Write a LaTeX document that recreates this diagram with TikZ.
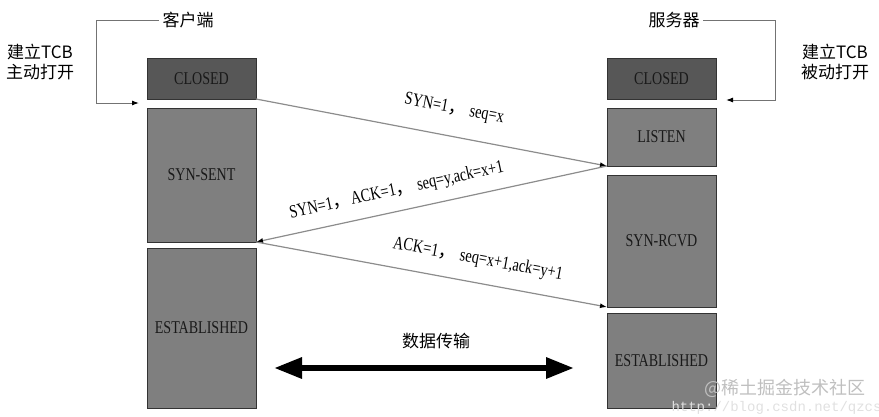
\documentclass[tikz,border=0pt]{standalone}
\usepackage{fontspec}
\setmainfont{Liberation Serif}[FakeStretch=0.78]
\newfontfamily\cjk{Noto Sans CJK SC}
\newfontfamily\urlfont{Liberation Mono}
\usetikzlibrary{arrows.meta}
\definecolor{darkbox}{HTML}{575757}
\definecolor{midbox}{HTML}{7F7F7F}
\newcommand{\fc}{{\cjk ，}}
\tikzset{
  statebox/.style={draw=black!80,fill=midbox,anchor=north west,minimum width=109pt,inner sep=0pt,outer sep=0pt,text=black!90,font=\fontsize{18}{20}\selectfont},
  closedbox/.style={statebox,fill=darkbox,minimum height=41pt},
  msg/.style={draw=black!45,line width=1.2pt,-{Latex[length=7pt,width=5pt,color=black]}},
  msglabel/.style={sloped,font=\fontsize{18.5}{20}\selectfont},
  zh/.style={font=\cjk\fontsize{17}{20}\selectfont},
  bracket/.style={draw=black!55,line width=1pt,-{Latex[length=7pt,width=5pt,color=black]}}
}
\begin{document}
\begin{tikzpicture}[x=1pt,y=-1pt]
\useasboundingbox (0,0) rectangle (879,416);
% client side
\node[closedbox] (cc) at (147,58) {CLOSED};
\node[statebox,minimum height=134pt] (cs) at (147,108) {SYN-SENT};
\node[statebox,minimum height=160pt] (ce) at (147,248) {ESTABLISHED};
% server side
\node[closedbox] (sc) at (607,58) {CLOSED};
\node[statebox,minimum height=58pt] (sl) at (607,108) {LISTEN};
\node[statebox,minimum height=132pt] (sr) at (607,175) {SYN-RCVD};
\node[statebox,minimum height=95pt] (se) at (607,313) {ESTABLISHED};
% handshake
\draw[msg] (cc.south east) -- node[msglabel,pos=0.55,above=15pt] {SYN=1\fc{} seq=x} (sl.south west);
\draw[msg] (sl.south west) -- node[msglabel,pos=0.587,above=8pt] {SYN=1\fc{}ACK=1\fc{} seq=y,ack=x+1} (cs.south east);
\draw[msg] (cs.south east) -- node[msglabel,pos=0.62,above=11pt] {ACK=1\fc{} seq=x+1,ack=y+1} (sr.south west);
% open
\node[zh] (cl) at (188,20) {客户端};
\coordinate (clin) at (139,103);
\draw[bracket] (cl.west) -| (96,103) -- (clin);
\node[zh,align=center] (cltext) at (40,62) {建立TCB\\主动打开};
\node[zh] (sv) at (674,20) {服务器};
\coordinate (svin) at (726,100);
\draw[bracket] (sv.east) -| (775,100) -- (svin);
\node[zh,align=center] (svtext) at (835,62) {建立TCB\\被动打开};
% data
\node[zh] (data) at (436,341) {数据传输};
\coordinate (dl) at (274,368);
\coordinate (dr) at (574,368);
\draw[line width=6pt,{Triangle[length=28pt,width=20pt]}-{Triangle[length=28pt,width=20pt]}] (dl) -- (dr);
\node[font=\cjk\fontsize{18}{20}\selectfont,text=black!25] (wm) at (785,388) {@稀土掘金技术社区};
\node[anchor=west,font=\urlfont\fontsize{14}{15}\selectfont,text=black!12] (url) at (668,408) {http://blog.csdn.net/qzcsu};
\end{tikzpicture}
\end{document}
